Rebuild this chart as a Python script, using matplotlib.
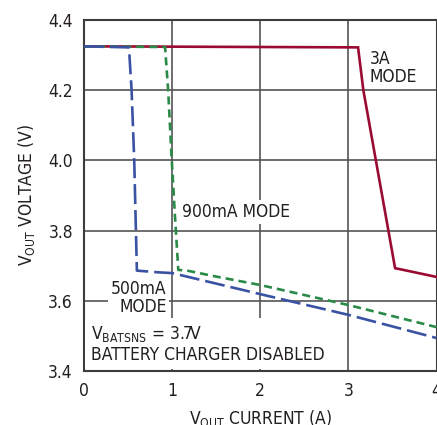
#!/usr/bin/env python3
import matplotlib
matplotlib.use('Agg')
import matplotlib.pyplot as plt

# curve data (current in A, voltage in V)
mode_3a_current = [0.0, 3.11, 3.17, 3.53, 4.0]
mode_3a_voltage = [4.325, 4.322, 4.20, 3.693, 3.668]

mode_900ma_current = [0.0, 0.92, 0.955, 0.996, 1.03, 1.07, 1.17, 1.5, 2.0, 3.0, 4.0]
mode_900ma_voltage = [4.325, 4.323, 4.20, 4.00, 3.85, 3.688, 3.686, 3.669, 3.645, 3.588, 3.525]

mode_500ma_current = [0.0, 0.51, 0.54, 0.57, 0.60, 0.85, 1.0, 2.0, 3.0, 4.0]
mode_500ma_voltage = [4.325, 4.322, 4.20, 4.00, 3.686, 3.681, 3.679, 3.619, 3.560, 3.494]

x_ticks = [0, 1, 2, 3, 4]
y_ticks = [3.4, 3.6, 3.8, 4.0, 4.2, 4.4]
y_tick_labels = ['3.4', '3.6', '3.8', '4.0', '4.2', '4.4']

plt.rcParams['font.family'] = ['Liberation Sans Narrow', 'DejaVu Sans']
plt.rcParams['font.stretch'] = 'condensed'
plt.rcParams['font.size'] = 12.5
plt.rcParams['lines.scale_dashes'] = False
plt.rcParams['mathtext.fontset'] = 'custom'

text_color = '#231f20'
grid_color = '#555555'

figure = plt.figure(figsize=(4.37, 4.25), dpi=100)
axes = figure.add_axes([84 / 437, 1 - 371 / 425, 352.5 / 437, 351 / 425])

axes.plot(mode_3a_current, mode_3a_voltage, color='#9b0a32', lw=1.9,
          solid_joinstyle='miter', zorder=3)
axes.plot(mode_900ma_current, mode_900ma_voltage, color='#2a8a48', lw=1.9,
          dashes=(5.8, 3.6), zorder=4)
axes.plot(mode_500ma_current, mode_500ma_voltage, color='#3a52a4', lw=1.9,
          dashes=(14.4, 4.3), zorder=5)

axes.set_xlim(0, 4)
axes.set_ylim(3.4, 4.4)
axes.set_xticks(x_ticks)
axes.set_yticks(y_ticks)
axes.set_yticklabels(y_tick_labels)
axes.tick_params(length=0, pad=8, labelcolor=text_color, labelsize=12.5)
axes.grid(True, color=grid_color, lw=1.2, zorder=1)
axes.set_axisbelow(True)
for spine in axes.spines.values():
    spine.set_color('#3c3c3c')
    spine.set_linewidth(1.5)

axes.set_xlabel(r'V$_{\mathregular{OUT}}$ CURRENT (A)', color=text_color, labelpad=6)
axes.set_ylabel(r'V$_{\mathregular{OUT}}$ VOLTAGE (V)', color=text_color, labelpad=8)

box = dict(facecolor='white', edgecolor='none', pad=2)
axes.text(3.24, 4.263, '3A\nMODE', ha='left', va='center', color=text_color,
          linespacing=1.05, bbox=box, zorder=6)
axes.text(1.11, 3.853, '900mA MODE', ha='left', va='center', color=text_color,
          bbox=box, zorder=6)
axes.text(0.62, 3.608, '500mA\nMODE', ha='center', va='center', color=text_color,
          linespacing=1.05, multialignment='right', bbox=box, zorder=6)
axes.text(0.08, 3.477, 'V$_{\\mathregular{BATSNS}}$ = 3.7V\nBATTERY CHARGER DISABLED',
          ha='left', va='center', color=text_color, linespacing=1.1,
          bbox=dict(facecolor='white', edgecolor='none', pad=4), zorder=6)

figure.savefig('out.png', dpi=100)
plt.close(figure)
